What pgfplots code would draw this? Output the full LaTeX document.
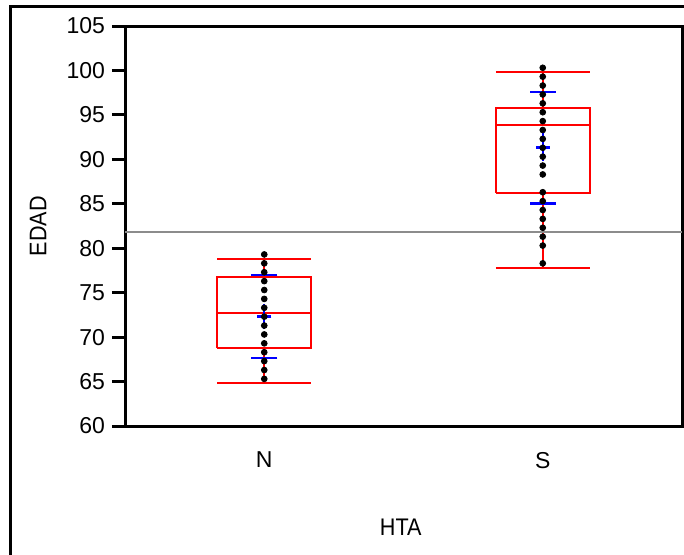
\documentclass[border=0pt]{standalone}
\usepackage{pgfplots}
\pgfplotsset{compat=1.18}
\usepackage{fontspec}
\setmainfont{Liberation Sans}

\definecolor{meangray}{RGB}{140,140,140}
\newcommand{\lblfont}{\fontsize{11.5}{13}\selectfont}
\newcommand{\axlblfont}{\fontsize{12}{14}\selectfont}

\begin{document}
\begin{tikzpicture}
\useasboundingbox (0,0) rectangle (342pt,277pt);
% outer frame (right and bottom edges fall outside the picture)
\draw[line width=1.5pt] (5pt,-5pt) -- (5pt,273.6pt) -- (350pt,273.6pt);

\begin{axis}[
    at={(62.5pt,64pt)}, anchor=south west,
    scale only axis,
    width=278.5pt, height=200pt,
    xmin=0.5, xmax=2.5,
    ymin=60, ymax=105,
    ytick distance=5,
    xtick={1,2}, xticklabels={N,S},
    xtick style={draw=none},
    ytick pos=left, xtick pos=bottom,
    tick align=outside,
    major tick length=6.5pt,
    ytick style={line width=1.5pt, black},
    axis line style={line width=1.5pt},
    /pgf/number format/assume math mode=true,
    tick label style={font=\lblfont},
    xticklabel style={yshift=-3pt},
    xlabel={\scalebox{0.9}[1]{HTA}}, ylabel={\scalebox{0.9}[1]{EDAD}},
    every axis x label/.style={at={(axis description cs:0.495,-0.2525)}, anchor=center, font=\axlblfont},
    every axis y label/.style={at={(axis description cs:-0.156,0.5)}, rotate=90, anchor=center, font=\axlblfont},
    unbounded coords=jump,
]
% quantile boxes, N
\addplot[red, line width=1pt] coordinates {
    (0.8315,68.8) (1.1685,68.8) (1.1685,76.8) (0.8315,76.8) (0.8315,68.8)};
\addplot[red, line width=1pt] coordinates {
    (0.8315,72.75) (1.1685,72.75) (1,nan)
    (1,76.8) (1,78.8) (1,nan) (0.8315,78.8) (1.1685,78.8) (1,nan)
    (1,68.8) (1,64.8) (1,nan) (0.8315,64.8) (1.1685,64.8)};
% quantile boxes, S
\addplot[red, line width=1pt] coordinates {
    (1.8315,86.25) (2.1685,86.25) (2.1685,95.75) (1.8315,95.75) (1.8315,86.25)};
\addplot[red, line width=1pt] coordinates {
    (1.8315,93.85) (2.1685,93.85) (2,nan)
    (2,95.75) (2,99.85) (2,nan) (1.8315,99.85) (2.1685,99.85) (2,nan)
    (2,86.25) (2,77.8) (2,nan) (1.8315,77.8) (2.1685,77.8)};

% grand mean
\addplot[meangray, line width=1pt] coordinates {(0.5,81.83) (2.5,81.83)};

% std dev lines
\addplot[blue, only marks, mark=-, mark size=6.5pt, mark options={line width=1.2pt}]
    coordinates {(1,77.0) (1,67.65) (2,97.6) (2,85.05)};

% means with error bars
\addplot[blue, only marks, mark=-, mark size=3.5pt, mark options={line width=1.2pt},
    error bars/.cd, y dir=both, y explicit,
    error mark=-, error mark options={blue, mark size=3.5pt, line width=1.2pt},
    error bar style={line width=1.2pt}]
    coordinates {(1,72.3) +- (0,0.64) (2,91.35) +- (0,0.78)};

% observations
\addplot[black, only marks, mark=*, mark size=1.45pt] coordinates {
    (1,65.3) (1,66.3) (1,67.3) (1,68.3) (1,69.3) (1,70.3) (1,71.3) (1,72.3)
    (1,73.3) (1,74.3) (1,75.3) (1,76.3) (1,77.3) (1,78.3) (1,79.3)
};
\addplot[black, only marks, mark=*, mark size=1.45pt] coordinates {
    (2,78.3) (2,80.3) (2,81.3) (2,82.3) (2,83.3) (2,84.3) (2,85.3) (2,86.3)
    (2,88.3) (2,89.3) (2,90.3) (2,91.3) (2,92.3) (2,93.3) (2,94.3) (2,95.3)
    (2,96.3) (2,97.3) (2,98.3) (2,99.3) (2,100.3)
};

% category separator tick
\draw[line width=0.8pt] (axis cs:1.5,60) -- ++(0,-6pt);
\end{axis}
\end{tikzpicture}
\end{document}
